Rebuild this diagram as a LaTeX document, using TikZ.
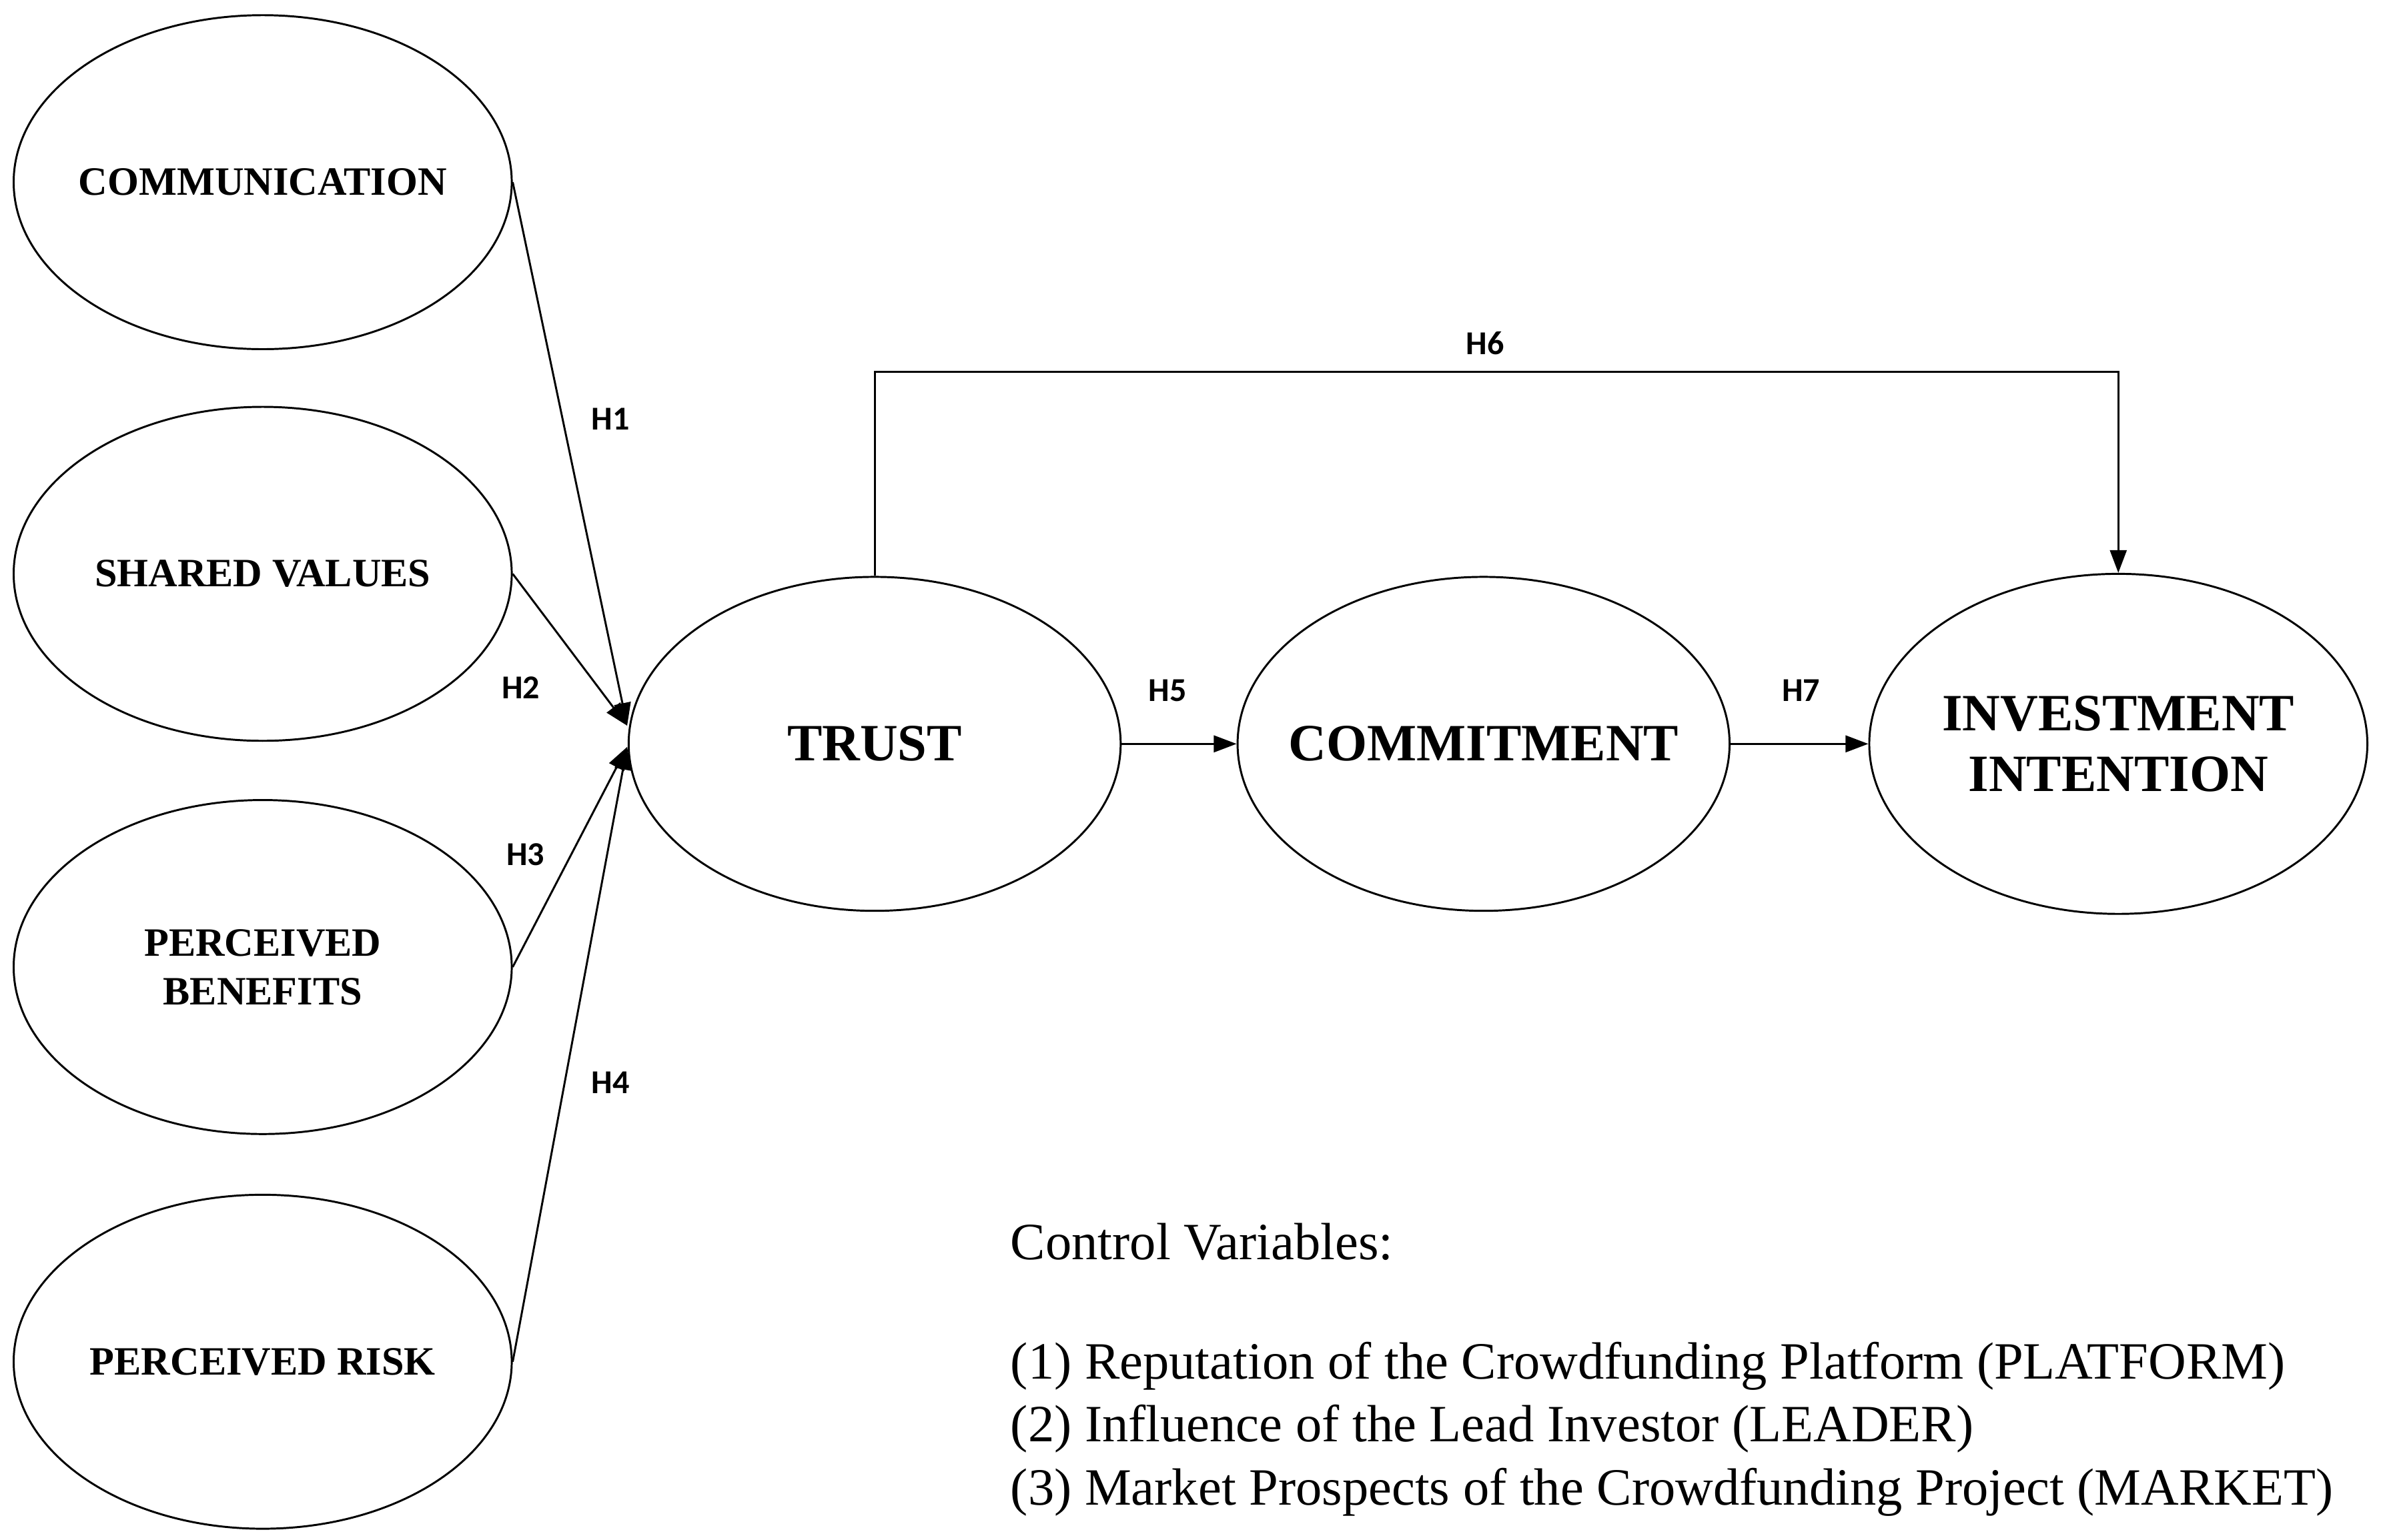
\documentclass[tikz,border=0pt]{standalone}
\usepackage{fontspec}
\setmainfont{Liberation Serif}
\newfontfamily\lab{Carlito}
\usetikzlibrary{shapes.geometric,arrows.meta}
\begin{document}
\begin{tikzpicture}[x=1pt,y=-1pt,
 el/.style={ellipse,draw,line width=1.3pt,minimum width=328pt,minimum height=220pt,inner sep=0pt},
 t/.style={align=center,font=\fontsize{26.5}{32}\selectfont\bfseries},
 bt/.style={align=center,font=\fontsize{34.5}{40}\selectfont\bfseries},
 ar/.style={line width=1.3pt,-{Triangle[length=15pt,width=11pt]}},
 hl/.style={font=\lab\fontsize{22}{24}\selectfont\bfseries},
 cv/.style={anchor=west,font=\fontsize{34.5}{38}\selectfont}]
\useasboundingbox (0,0) rectangle (1568,1014);
\node[el] (com) at (173,120) {};
\node[el] (sv) at (173,378) {};
\node[el] (pb) at (173,637) {};
\node[el] (pr) at (173,897) {};
\node[el,minimum width=324pt] (tr) at (576,490) {};
\node[el,minimum width=324pt] (cm) at (977,490) {};
\node[el,minimum height=224pt] (ii) at (1395,490) {};
\node[t] (lcom) at (com.center) {COMMUNICATION};
\node[t] (lsv) at (sv.center) {SHARED VALUES};
\node[t] (lpb) at (pb.center) {PERCEIVED\\BENEFITS};
\node[t] (lpr) at (pr.center) {PERCEIVED RISK};
\node[bt] (ltr) at (tr.center) {TRUST};
\node[bt] (lcm) at (cm.center) {COMMITMENT};
\node[bt] (lii) at (ii.center) {INVESTMENT\\INTENTION};
\coordinate (t1) at (413,478);
\coordinate (t2) at (413,492);
\draw[ar] (com.east) -- (t1);
\draw[ar] (sv.east) -- (t1);
\draw[ar] (pb.east) -- (t2);
\draw[ar] (pr.east) -- (t2);
\draw[ar] (tr.north) |- (1395,245) -- (ii.north);
\draw[ar] (tr.east) -- (cm.west);
\draw[ar] (cm.east) -- (ii.west);
\node[hl] (h1) at (402,276) {H1};
\node[hl] (h2) at (343,453) {H2};
\node[hl] (h3) at (346,563) {H3};
\node[hl] (h4) at (402,713) {H4};
\node[hl] (h5) at (769,455) {H5};
\node[hl] (h6) at (978,226) {H6};
\node[hl] (h7) at (1186,455) {H7};
\node[cv] (c0) at (662,818) {Control Variables:};
\node[cv] (c1) at (662,900) {(1) Reputation of the Crowdfunding Platform (PLATFORM)};
\node[cv] (c2) at (662,941) {(2) Influence of the Lead Investor (LEADER)};
\node[cv] (c3) at (662,983) {(3) Market Prospects of the Crowdfunding Project (MARKET)};
\end{tikzpicture}
\end{document}
